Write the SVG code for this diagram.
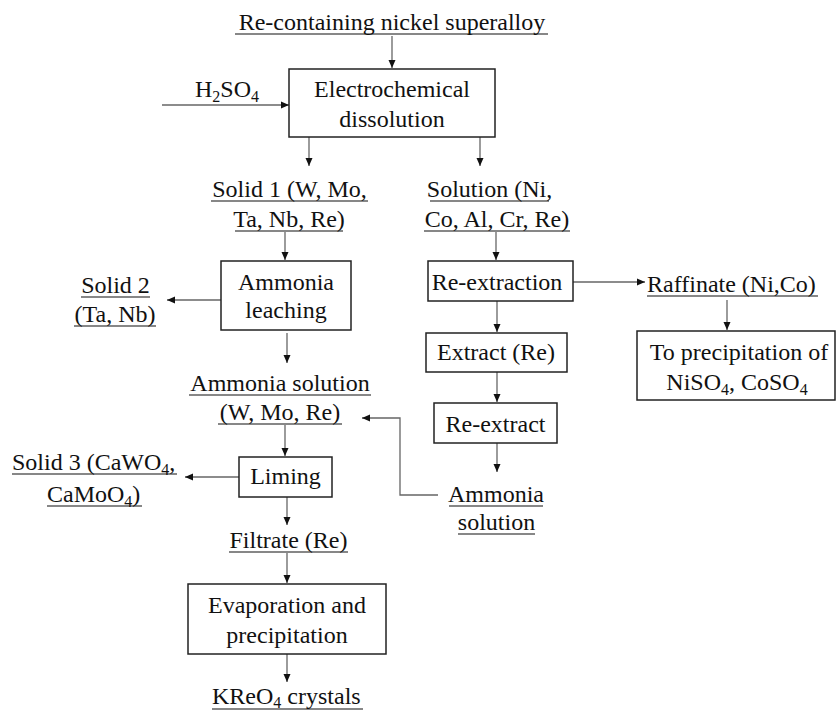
<svg xmlns="http://www.w3.org/2000/svg" width="837" height="713" viewBox="0 0 837 713">
<defs>
<marker id="ah" markerUnits="userSpaceOnUse" markerWidth="10" markerHeight="8" refX="8" refY="4" orient="auto">
<path d="M0,0.5 L8,4 L0,7.5 Z" fill="#111"/>
</marker>
<style>
text{font-family:"Liberation Serif","Times New Roman",serif;font-size:24px;fill:#111}
.m{text-anchor:middle}
.sub{font-size:16px}
.box{fill:#fff;stroke:#222;stroke-width:1.5}
.c{fill:none;stroke:#666;stroke-width:1.3}
.a{marker-end:url(#ah)}
.u{stroke:#111;stroke-width:1.2}
</style>
</defs>
<rect width="837" height="713" fill="#fff"/>

<g id="connectors">
<line class="c a" x1="392" y1="36" x2="392" y2="68"/>
<line class="c a" x1="162" y1="105" x2="289" y2="105"/>
<line class="c a" x1="309" y1="137" x2="309" y2="166"/>
<line class="c a" x1="480" y1="137" x2="480" y2="166"/>
<line class="c a" x1="285" y1="232" x2="285" y2="260"/>
<line class="c a" x1="221" y1="300" x2="167" y2="300"/>
<line class="c a" x1="287" y1="333" x2="287" y2="363"/>
<line class="c a" x1="285" y1="425" x2="285" y2="456"/>
<line class="c a" x1="239" y1="477" x2="185" y2="477"/>
<line class="c a" x1="287" y1="497" x2="287" y2="525"/>
<line class="c a" x1="287" y1="553" x2="287" y2="583"/>
<line class="c a" x1="287" y1="654" x2="287" y2="682"/>
<line class="c a" x1="496" y1="232" x2="496" y2="260"/>
<line class="c a" x1="573" y1="282" x2="645" y2="282"/>
<line class="c a" x1="727" y1="300" x2="727" y2="330"/>
<line class="c a" x1="497" y1="301" x2="497" y2="332"/>
<line class="c a" x1="497" y1="372" x2="497" y2="402"/>
<line class="c a" x1="497" y1="443" x2="497" y2="472"/>
<polyline class="c a" points="438,495 400,495 400,418 362,418"/>
</g>

<g id="superalloy">
<text class="m" x="392" y="30">Re-containing nickel superalloy</text>
<line class="u" x1="235" y1="34" x2="548" y2="34"/>
</g>

<g id="h2so4">
<text x="195" y="97">H<tspan class="sub" dy="5">2</tspan><tspan dy="-5">SO</tspan><tspan class="sub" dy="5">4</tspan></text>
</g>

<g id="electrochemical">
<rect class="box" x="289" y="69" width="206" height="68"/>
<text class="m" x="392" y="97">Electrochemical</text>
<text class="m" x="392" y="127">dissolution</text>
</g>

<g id="solid1">
<text class="m" x="289.5" y="197">Solid 1 (W, Mo,</text>
<text class="m" x="289" y="227">Ta, Nb, Re)</text>
<line class="u" x1="211" y1="201" x2="368" y2="201"/>
<line class="u" x1="235" y1="231" x2="343" y2="231"/>
</g>

<g id="solution">
<text class="m" x="489.5" y="197">Solution (Ni,</text>
<text class="m" x="497" y="227">Co, Al, Cr, Re)</text>
<line class="u" x1="430" y1="201" x2="549" y2="201"/>
<line class="u" x1="424" y1="231" x2="570" y2="231"/>
</g>

<g id="ammonia-leaching">
<rect class="box" x="221" y="261" width="130" height="69"/>
<text class="m" x="286" y="290">Ammonia</text>
<text class="m" x="286" y="318">leaching</text>
</g>

<g id="solid2">
<text class="m" x="115.5" y="293">Solid 2</text>
<text class="m" x="115" y="322">(Ta, Nb)</text>
<line class="u" x1="81" y1="297" x2="150" y2="297"/>
<line class="u" x1="74" y1="326" x2="156" y2="326"/>
</g>

<g id="ammonia-solution-wmore">
<text class="m" x="280" y="391">Ammonia solution</text>
<text class="m" x="280" y="420">(W, Mo, Re)</text>
<line class="u" x1="189" y1="395" x2="371" y2="395"/>
<line class="u" x1="218" y1="424" x2="342" y2="424"/>
</g>

<g id="liming">
<rect class="box" x="239" y="457" width="93" height="40"/>
<text class="m" x="285.5" y="484">Liming</text>
</g>

<g id="solid3">
<text x="12" y="470">Solid 3 (CaWO<tspan class="sub" dy="5">4</tspan><tspan dy="-5">,</tspan></text>
<text x="47" y="502">CaMoO<tspan class="sub" dy="5">4</tspan><tspan dy="-5">)</tspan></text>
<line class="u" x1="12" y1="474" x2="177" y2="474"/>
<line class="u" x1="47" y1="506" x2="142" y2="506"/>
</g>

<g id="filtrate">
<text class="m" x="288.5" y="548">Filtrate (Re)</text>
<line class="u" x1="229" y1="552" x2="348" y2="552"/>
</g>

<g id="evaporation">
<rect class="box" x="188" y="584" width="198" height="70"/>
<text class="m" x="287" y="613">Evaporation and</text>
<text class="m" x="287" y="643">precipitation</text>
</g>

<g id="kreo4">
<text x="212" y="704">KReO<tspan class="sub" dy="4">4</tspan><tspan dy="-4"> crystals</tspan></text>
<line class="u" x1="212" y1="709" x2="363" y2="709"/>
</g>

<g id="re-extraction">
<rect class="box" x="428" y="261" width="145" height="40"/>
<text class="m" x="497" y="290">Re-extraction</text>
</g>

<g id="raffinate">
<text x="647" y="292">Raffinate (Ni,Co)</text>
<line class="u" x1="647" y1="296" x2="818" y2="296"/>
</g>

<g id="precipitation-ni-co">
<rect class="box" x="637" y="331" width="198" height="69"/>
<text class="m" x="739" y="360">To precipitation of</text>
<text class="m" x="737" y="390">NiSO<tspan class="sub" dy="5">4</tspan><tspan dy="-5">, CoSO</tspan><tspan class="sub" dy="5">4</tspan></text>
</g>

<g id="extract">
<rect class="box" x="426" y="333" width="141" height="39"/>
<text class="m" x="496" y="360">Extract (Re)</text>
</g>

<g id="re-extract">
<rect class="box" x="434" y="403" width="123" height="40"/>
<text class="m" x="495.5" y="432">Re-extract</text>
</g>

<g id="ammonia-solution-strip">
<text class="m" x="496" y="502">Ammonia</text>
<text class="m" x="496.5" y="530">solution</text>
<line class="u" x1="449" y1="506" x2="543" y2="506"/>
<line class="u" x1="458" y1="534" x2="535" y2="534"/>
</g>
</svg>
